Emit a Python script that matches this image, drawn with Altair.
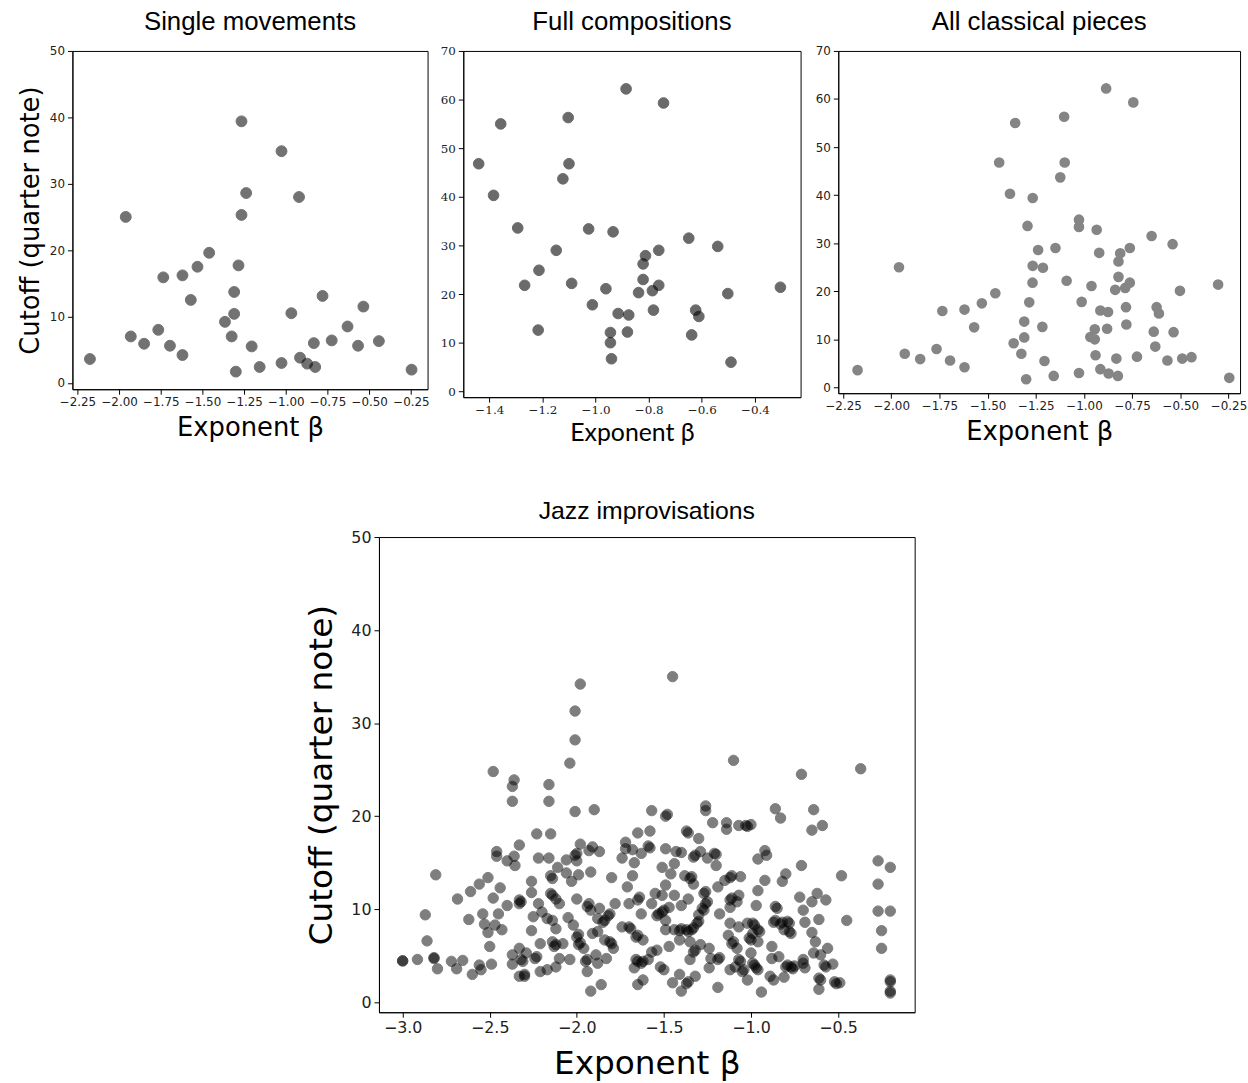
import altair as alt
import pandas as pd

# ---------------- data ----------------
single_beta = [-2.175, -1.96, -1.93, -1.85, -1.765, -1.735, -1.695, -1.62, -1.62, -1.57,
               -1.53, -1.46, -1.365, -1.325, -1.31, -1.31, -1.30, -1.284, -1.266, -1.266,
               -1.238, -1.205, -1.157, -1.026, -1.026, -0.967, -0.921, -0.915, -0.872, -0.832,
               -0.824, -0.78, -0.725, -0.63, -0.567, -0.535, -0.442, -0.246]
single_cutoff = [3.6, 25.0, 7.0, 5.9, 8.0, 15.9, 5.6, 4.2, 16.2, 12.5,
                 17.5, 19.6, 9.2, 7.0, 10.4, 13.7, 1.7, 17.7, 39.4, 25.3,
                 28.6, 5.5, 2.4, 34.9, 3.0, 10.5, 28.0, 3.8, 2.9, 6.0,
                 2.4, 13.1, 6.4, 8.5, 5.6, 11.5, 6.3, 2.0]

full_beta = [-1.44, -1.384, -1.357, -1.293, -1.267, -1.213, -1.216, -1.148, -1.123, -1.103,
             -1.10, -1.09, -1.026, -1.012, -0.961, -0.934, -0.915, -0.944, -0.944, -0.94,
             -0.885, -0.875, -0.88, -0.838, -0.821, -0.812, -0.821, -0.786, -0.782, -0.762,
             -0.762, -0.744, -0.649, -0.623, -0.611, -0.638, -0.54, -0.502, -0.49, -0.304]
full_cutoff = [46.8, 40.3, 55.0, 33.6, 21.8, 24.9, 12.6, 29.0, 43.7, 56.3,
               46.8, 22.2, 33.4, 17.8, 21.1, 32.8, 16.0, 12.1, 10.0, 6.7,
               62.2, 15.7, 12.2, 20.3, 26.2, 27.9, 23.0, 20.7, 16.7, 29.0,
               21.8, 59.3, 31.5, 16.7, 15.4, 11.6, 29.8, 20.1, 6.0, 21.4]

jazz_beta = [
    -3.0, -3.0, -2.915, -2.82, -2.82, -2.80, -2.87, -2.86, -2.81, -2.72, -2.69, -2.655,
    -2.685, -2.61, -2.56, -2.51, -2.62, -2.54, -2.53, -2.51, -2.47, -2.43, -2.45, -2.48,
    -2.44, -2.40, -2.50, -2.60, -2.56, -2.55, -2.49, -2.48, -2.36, -2.37, -2.37, -2.46,
    -2.46, -2.40, -2.36, -2.355, -2.33, -2.37, -2.37, -2.33, -2.33, -2.33, -2.33,
    -1.98, -2.01, -2.01, -2.04, -2.16, -2.16, -2.01, -1.90, -2.23, -2.15, -2.22, -2.16,
    -2.11, -2.06, -2.01, -2.00, -1.98, -1.91, -1.87, -1.93, -2.00, -1.92, -1.99, -2.06,
    -2.03, -2.15, -2.14, -2.26, -1.80, -2.26, -2.15, -2.14, -2.12, -2.10, -2.00, -2.32,
    -2.22, -2.20, -2.25, -2.17, -2.14, -2.12, -2.26, -2.05, -2.02, -2.00, -1.99, -1.99,
    -1.98, -1.96, -1.93, -1.94, -1.92, -1.87, -1.88, -1.85, -1.84, -1.81, -1.82, -1.78,
    -1.91, -1.88, -1.84, -1.80, -1.81, -1.79, -1.89, -1.95, -1.94, -1.94, -1.88, -1.83,
    -1.92, -1.86, -2.04, -2.10, -2.13, -2.12, -2.08, -2.14, -2.21, -2.24, -2.23, -2.29,
    -2.31, -2.32, -2.30, -2.30, -2.21, -2.17, -2.12, -1.72, -1.72, -1.68, -1.74, -1.67,
    -1.65, -1.58, -1.57, -1.58, -1.59, -1.63, -1.68, -1.71, -1.70, -1.64, -1.65, -1.63,
    -1.74, -1.69, -1.70, -1.66, -1.65, -1.62, -1.57, -1.66, -1.65, -1.62, -1.63, -1.59,
    -1.67, -1.62, -1.65, -1.57, -1.55, -1.53, -1.54, -1.54, -1.52,
    -1.45, -1.10, -0.71, -1.49, -1.48, -1.26, -1.26, -1.22, -1.14, -1.14, -1.07, -1.03,
    -1.02, -1.00, -0.86, -0.83, -1.37, -1.36, -1.30, -1.49, -1.43, -1.40, -1.33, -1.32,
    -1.29, -1.25, -1.20, -1.21, -1.20, -1.44, -1.51, -1.46, -1.38, -1.35, -1.34, -1.33,
    -1.49, -1.12, -1.11, -1.06, -1.19, -1.15, -0.96, -0.92, -0.91, -0.92, -0.96, -0.97,
    -0.80, -0.82, -0.71, -1.27, -1.26, -1.26, -1.25, -1.28, -1.27, -1.30, -1.31, -1.30,
    -1.34, -1.33, -1.37, -1.36, -1.41, -1.40, -1.44, -1.49, -1.44, -1.47, -1.40, -1.36,
    -1.51, -1.51, -1.50, -1.49, -1.47, -1.41, -1.35, -1.33, -1.32, -1.35, -1.29, -1.24,
    -1.23, -1.19, -1.18, -1.24, -1.50, -1.41, -1.45, -1.37, -1.36, -1.40, -1.32, -1.19,
    -1.12, -1.18, -1.12, -1.11, -1.08, -1.07, -1.12, -1.07, -1.02, -0.98, -0.99, -0.96,
    -0.95, -0.99, -1.13, -1.11, -1.10, -1.08, -1.00, -1.01, -0.96, -1.00, -1.07, -1.06,
    -1.09, -1.05, -1.04, -0.98, -0.99, -0.96, -0.97, -1.02, -1.12, -0.94, -0.88, -0.88,
    -0.84, -0.85, -0.86, -0.87, -0.86, -0.82, -0.83, -0.78, -0.79, -0.77, -0.78, -0.81,
    -0.72, -0.70, -0.69, -0.80, -0.79, -0.77, -0.76, -0.75, -0.87, -0.89, -0.81, -0.70,
    -0.69,
    -0.37, -0.64, -0.65, -0.59, -0.48, -0.27, -0.20, -0.27, -0.27, -0.20, -0.25, -0.25,
    -0.20, -0.20, -0.20, -0.20, -0.45, -0.62, -0.57, -0.65, -0.61, -0.65, -0.63, -0.64,
    -0.56, -0.60, -0.58, -0.57, -0.53, -0.70, -0.61, -0.60, -0.61, -0.51, -0.52, -0.49]
jazz_cutoff = [
    4.45, 4.45, 4.6, 4.7, 4.8, 3.6, 9.4, 6.6, 13.7, 4.4, 3.6, 4.5,
    11.1, 11.9, 12.7, 13.4, 8.9, 9.5, 8.4, 7.5, 8.3, 7.8, 9.5, 11.2,
    12.3, 10.4, 6.0, 3.0, 4.0, 3.5, 4.1, 24.8, 23.9, 23.2, 21.6, 16.2,
    15.7, 15.2, 15.7, 14.7, 16.9, 5.1, 4.1, 5.8, 2.8, 10.6, 11.0,
    34.2, 31.3, 28.2, 25.7, 23.4, 21.6, 20.5, 20.7, 18.1, 18.1, 15.5, 15.5,
    14.5, 15.3, 15.8, 16.0, 17.0, 16.7, 16.2, 16.3, 15.2, 14.0, 13.7, 13.9,
    13.0, 13.6, 13.3, 13.0, 13.4, 11.8, 11.7, 11.5, 11.1, 10.6, 11.1, 10.8,
    10.6, 9.7, 9.2, 9.0, 8.8, 7.9, 7.7, 9.1, 8.3, 7.0, 7.3, 6.2,
    6.4, 5.8, 10.6, 10.3, 9.9, 10.1, 9.0, 8.6, 8.8, 9.5, 9.3, 10.6,
    7.4, 7.6, 6.7, 6.3, 6.5, 5.8, 5.1, 4.4, 4.6, 3.3, 4.2, 4.7,
    1.2, 1.9, 4.6, 4.7, 6.0, 6.2, 6.3, 6.5, 6.3, 4.7, 4.9, 5.3,
    4.4, 4.6, 2.8, 3.0, 3.3, 3.5, 3.8, 17.2, 16.5, 16.4, 15.5, 15.0,
    18.2, 18.4, 20.6, 16.6, 16.8, 16.0, 13.6, 12.4, 10.6, 11.3, 11.0, 9.5,
    8.1, 7.9, 8.1, 7.0, 7.2, 6.7, 5.4, 4.6, 4.4, 4.4, 4.2, 4.6,
    3.7, 2.4, 1.9, 10.6, 11.7, 9.5, 9.3, 5.6, 3.8,
    35.0, 26.0, 24.5, 20.0, 20.2, 21.1, 20.6, 19.3, 19.3, 18.6, 19.0, 19.0,
    18.9, 19.1, 20.8, 19.8, 18.4, 18.2, 17.6, 16.5, 16.2, 16.1, 15.6, 15.8,
    16.2, 15.5, 15.9, 16.0, 14.7, 14.9, 14.5, 13.8, 13.6, 13.3, 13.5, 12.7,
    12.6, 13.4, 13.6, 13.5, 12.4, 13.1, 15.4, 16.3, 15.8, 13.1, 12.0, 10.4,
    13.8, 13.0, 14.7, 11.7, 11.9, 10.6, 10.8, 10.1, 9.9, 9.4, 8.5, 8.7,
    7.8, 8.0, 7.8, 7.6, 7.7, 7.9, 7.8, 7.8, 11.5, 10.2, 10.4, 11.1,
    11.5, 9.7, 9.9, 8.8, 6.0, 6.7, 6.5, 5.4, 5.6, 4.6, 6.2, 5.8,
    4.7, 4.6, 4.8, 3.7, 3.5, 3.0, 2.1, 2.0, 2.2, 1.2, 2.8, 1.6,
    10.2, 9.5, 11.0, 11.2, 10.8, 11.5, 8.5, 8.1, 8.5, 8.3, 8.5, 7.8,
    7.6, 7.4, 7.2, 6.3, 6.5, 5.8, 6.7, 6.9, 6.5, 5.3, 4.6, 4.4,
    3.8, 3.3, 3.5, 4.0, 4.2, 3.5, 3.7, 2.4, 3.5, 1.1, 6.0, 4.7,
    4.9, 10.1, 10.3, 8.6, 8.8, 8.6, 8.4, 8.5, 8.7, 7.4, 7.6, 7.8,
    11.3, 9.9, 8.6, 3.8, 4.0, 3.8, 3.6, 3.9, 2.4, 2.8, 2.7, 4.6,
    3.7,
    25.1, 20.7, 18.5, 19.0, 13.6, 15.2, 14.5, 12.7, 9.8, 9.8, 7.7, 5.8,
    2.4, 2.2, 1.0, 1.2, 8.8, 11.7, 11.0, 10.8, 8.9, 7.5, 6.5, 5.3,
    5.8, 5.1, 4.0, 3.8, 4.1, 4.2, 2.6, 2.4, 1.4, 2.0, 2.2, 2.1]

titles = ["Single movements", "Full compositions", "All classical pieces", "Jazz improvisations"]
x_title = "Exponent β"
y_title = "Cutoff (quarter note)"

ticks_wide = [-2.25, -2.0, -1.75, -1.5, -1.25, -1.0, -0.75, -0.5, -0.25]
ticks_full = [-1.4, -1.2, -1.0, -0.8, -0.6, -0.4]
ticks_jazz = [-3.0, -2.5, -2.0, -1.5, -1.0, -0.5]
ticks_y50 = [0, 10, 20, 30, 40, 50]
ticks_y70 = [0, 10, 20, 30, 40, 50, 60, 70]

df_single = pd.DataFrame({"beta": single_beta, "cutoff": single_cutoff})
df_full = pd.DataFrame({"beta": full_beta, "cutoff": full_cutoff})
df_all = pd.concat([df_single, df_full], ignore_index=True)
df_jazz = pd.DataFrame({"beta": jazz_beta, "cutoff": jazz_cutoff})

SANS = "DejaVu Sans"


def panel(df, title, xdom, ydom, xticks, yticks, xfmt, w, h, mark,
          lab_font=SANS, lab_size=12, xt_font=SANS, xt_size=26, xt_pad=8,
          yt=None, yt_size=26, yt_pad=6, title_size=26, title_off=10, tick=5):
    xaxis = alt.Axis(values=xticks, format=xfmt, grid=False, tickSize=tick,
                     tickColor="black", domainColor="black", labelFont=lab_font,
                     labelFontSize=lab_size, labelColor="#222222", labelPadding=2,
                     labelFlush=False, labelOverlap=False,
                     title=x_title, titleFont=xt_font, titleFontSize=xt_size,
                     titleFontWeight="normal", titleColor="black", titlePadding=xt_pad)
    yargs = dict(values=yticks, format="d", grid=False, tickSize=tick,
                 tickColor="black", domainColor="black", labelFont=lab_font,
                 labelFontSize=lab_size, labelColor="#222222", labelPadding=3,
                 labelFlush=False, labelOverlap=False)
    if yt:
        yargs.update(title=yt, titleFont=SANS, titleFontSize=yt_size,
                     titleFontWeight="normal", titleColor="black", titlePadding=yt_pad)
    else:
        yargs.update(title="")
    return alt.Chart(df).mark_circle(**mark).encode(
        x=alt.X("beta:Q", scale=alt.Scale(domain=xdom, nice=False, zero=False), axis=xaxis),
        y=alt.Y("cutoff:Q", scale=alt.Scale(domain=ydom, nice=False, zero=False),
                axis=alt.Axis(**yargs)),
    ).properties(
        width=w, height=h,
        title=alt.TitleParams(title, font="Liberation Sans", fontSize=title_size,
                              fontWeight="normal", color="black", offset=title_off),
        view=alt.ViewBackground(stroke="black", strokeWidth=1, fill="white"),
    )


dark = dict(size=120, color="black", opacity=0.55, stroke="black", strokeWidth=1)

p1 = panel(df_single, titles[0], [-2.28, -0.15], [-0.95, 50], ticks_wide, yticks=ticks_y50,
           xfmt=".2f", w=358, h=341, mark=dark, yt=y_title)
p2 = panel(df_full, titles[1], [-1.498, -0.228], [-1.2, 70], ticks_full, yticks=ticks_y70,
           xfmt=".1f", w=340, h=349, mark=dict(size=115, color="black", opacity=0.58,
                                                 stroke="black", strokeWidth=1),
           lab_font="DejaVu Serif", lab_size=12, xt_font="Lato", xt_size=25, xt_pad=6)
p3 = panel(df_all, titles[2], [-2.275, -0.19], [-1.2, 70], ticks_wide, yticks=ticks_y70,
           xfmt=".2f", w=405, h=345, mark=dict(size=115, color="#858585", opacity=1))
pj = panel(df_jazz, titles[3], [-3.136, -0.06], [-1.07, 50], ticks_jazz, yticks=ticks_y50,
           xfmt=".1f", w=540, h=479, mark=dict(size=110, color="black", opacity=0.5,
                                                 stroke="black", strokeWidth=1),
           lab_size=16, xt_size=33, xt_pad=13, yt=y_title, yt_size=33, yt_pad=12,
           title_size=25, title_off=5)

spacer = alt.Chart(pd.DataFrame({"v": [0]})).mark_point(opacity=0).encode(
    x=alt.value(0), y=alt.value(0)
).properties(width=235, height=10,
             view=alt.ViewBackground(stroke="white", strokeWidth=0, fill="white"))

top = alt.hconcat(p1, alt.hconcat(p2, p3, spacing=13), spacing=9)
bottom = alt.hconcat(spacer, pj, spacing=0)
chart = alt.vconcat(top, bottom, spacing=52).properties(
    padding={"left": 17, "top": 4, "right": 0, "bottom": 0},
    background="white",
)

chart.save("out.html", embed_options={"renderer": "svg", "actions": False})
